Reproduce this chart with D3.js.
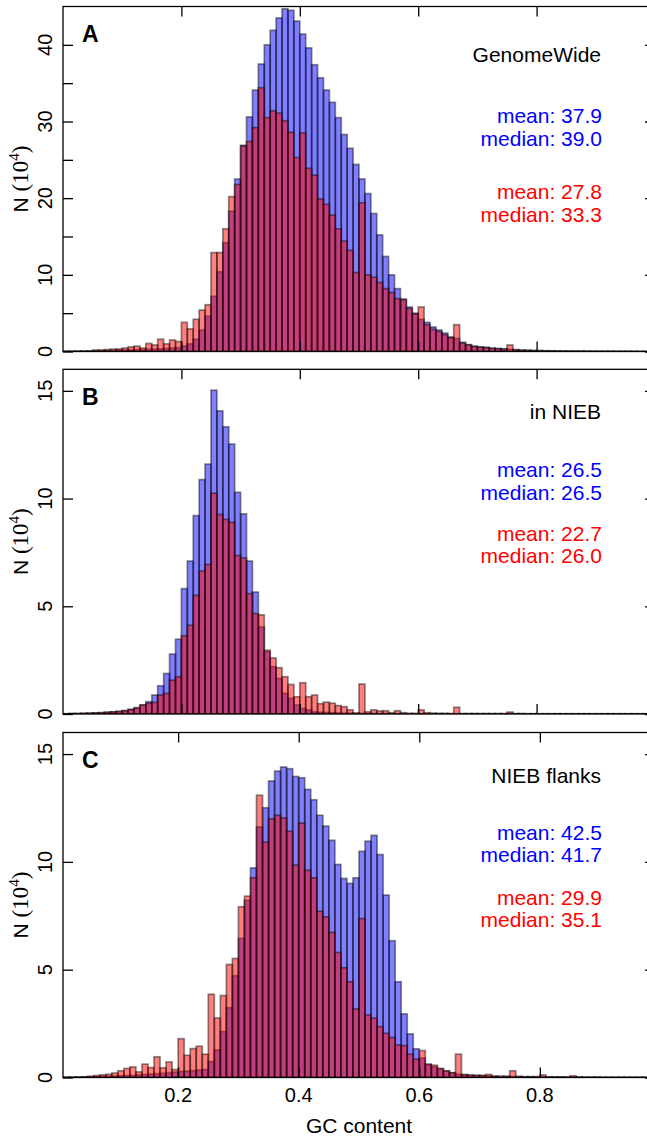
<!DOCTYPE html>
<html lang="en">
<head>
  <meta charset="UTF-8">
  <title>GC content histograms</title>
  <script src="https://d3js.org/d3.v7.min.js"></script>
  <style>
    body { margin: 0; background: #fff; }
    text { font-family: "Liberation Sans", Arial, sans-serif; }
  </style>
</head>
<body>
  <div id="chart"></div>
  <script>
    // bins of width 0.01 over GC content 0..1, counts in units of 10^4
    const binWidth = 0.01;

    const gwBlue = [
      0.02, 0.03, 0.04, 0.05, 0.06, 0.08, 0.1, 0.12, 0.15, 0.18,
      0.2, 0.22, 0.25, 0.25, 0.3, 0.3, 0.35, 0.4, 0.45, 0.5,
      0.7, 1.0, 1.6, 2.8, 4.6, 7.2, 10.4, 14.2, 18.3, 22.5,
      26.9, 30.6, 34.1, 37.5, 40.0, 41.9, 43.5, 44.7, 44.5, 43.1,
      41.4, 39.6, 37.4, 35.7, 34.1, 32.5, 30.5, 28.3, 26.5, 24.4,
      22.5, 20.6, 18.0, 15.2, 12.4, 10.0, 8.2, 6.8, 5.8, 5.0,
      4.2, 3.8, 3.2, 2.8, 2.4, 1.9, 1.7, 1.2, 0.9, 0.7,
      0.6, 0.55, 0.45, 0.4, 0.35, 0.3, 0.25, 0.2, 0.18, 0.15,
      0.12, 0.1, 0.09, 0.08, 0.07, 0.06, 0.05, 0.05, 0.04, 0.04,
      0.03, 0.03, 0.03, 0.02, 0.02, 0.02, 0.02, 0.01, 0.01, 0.01
    ];
    const gwRed = [
      0.02, 0.03, 0.04, 0.05, 0.08, 0.2, 0.2, 0.25, 0.3, 0.33,
      0.45, 0.6, 0.7, 0.45, 1.05, 0.85, 1.6, 1.0, 1.5, 1.3,
      3.8, 2.95, 4.2, 5.4, 6.1, 12.9, 12.9, 16.0, 20.2, 21.8,
      26.8, 27.4, 29.2, 34.4, 30.5, 31.4, 31.1, 30.1, 28.6, 25.3,
      28.5, 23.9, 23.0, 19.9, 19.2, 17.8, 16.0, 14.4, 13.2, 10.3,
      19.4, 10.0, 9.7, 9.0, 8.2, 7.7, 6.9, 6.8, 5.6, 4.9,
      5.8, 3.5, 2.9, 2.6, 2.2, 1.8, 3.5, 1.1, 0.85, 0.65,
      0.55, 0.5, 0.4, 0.35, 0.3, 0.85, 0.2, 0.15, 0.12, 0.1,
      0.1, 0.08, 0.07, 0.06, 0.05, 0.05, 0.04, 0.04, 0.03, 0.03,
      0.03, 0.02, 0.02, 0.02, 0.02, 0.01, 0.01, 0.01, 0.01, 0.01
    ];

    const niebBlue = [
      0.01, 0.02, 0.02, 0.03, 0.04, 0.05, 0.06, 0.08, 0.1, 0.12,
      0.16, 0.22, 0.3, 0.42, 0.57, 0.88, 1.31, 1.88, 2.78, 3.47,
      5.82, 7.1, 9.21, 10.88, 11.6, 15.03, 14.07, 13.33, 12.53, 10.29,
      9.29, 7.1, 5.66, 4.04, 2.9, 2.2, 1.65, 0.96, 0.73, 0.42,
      0.26, 0.19, 0.1, 0.08, 0.07, 0.06, 0.05, 0.04, 0.04, 0.03,
      0.03, 0.02, 0.02, 0.02, 0.02, 0.01, 0.01, 0.01, 0.01, 0.01,
      0.01, 0.01, 0.01, 0.01, 0.01, 0.01, 0.01, 0.01, 0.01, 0.01,
      0.01, 0.01, 0.01, 0.01, 0.01, 0.01, 0.01, 0.01, 0.01, 0.01,
      0.01, 0.01, 0.01, 0.01, 0.01, 0.01, 0.01, 0.01, 0.01, 0.01,
      0.01, 0.01, 0.01, 0.01, 0.01, 0.01, 0.01, 0.01, 0.01, 0.01
    ];
    const niebRed = [
      0.01, 0.02, 0.02, 0.03, 0.04, 0.05, 0.06, 0.08, 0.1, 0.12,
      0.15, 0.2, 0.26, 0.42, 0.5, 0.54, 0.88, 0.96, 1.57, 1.73,
      3.63, 4.12, 5.51, 6.64, 6.94, 10.25, 9.26, 9.03, 8.9, 7.36,
      7.24, 5.59, 4.66, 4.6, 2.96, 2.6, 2.15, 1.73, 1.37, 0.8,
      1.45, 0.8, 0.88, 0.48, 0.55, 0.5, 0.39, 0.34, 0.19, 0.04,
      1.39, 0.1, 0.19, 0.14, 0.15, 0.06, 0.15, 0.06, 0.03, 0.03,
      0.19, 0.06, 0.04, 0.03, 0.03, 0.02, 0.31, 0.02, 0.02, 0.02,
      0.02, 0.02, 0.02, 0.02, 0.02, 0.09, 0.02, 0.02, 0.01, 0.01,
      0.01, 0.01, 0.01, 0.01, 0.01, 0.01, 0.01, 0.01, 0.01, 0.01,
      0.01, 0.01, 0.01, 0.01, 0.01, 0.01, 0.01, 0.01, 0.01, 0.01
    ];

    const flankBlue = [
      0.01, 0.01, 0.02, 0.02, 0.03, 0.03, 0.04, 0.05, 0.06, 0.07,
      0.08, 0.09, 0.1, 0.12, 0.14, 0.16, 0.18, 0.2, 0.22, 0.25,
      0.28, 0.3, 0.32, 0.35, 0.37, 0.74, 1.28, 2.13, 3.24, 4.72,
      6.45, 8.22, 9.72, 11.62, 12.51, 13.75, 14.21, 14.4, 14.32, 13.96,
      13.9, 13.36, 12.88, 12.16, 11.66, 11.0, 9.88, 9.23, 9.0, 9.26,
      10.49, 10.96, 11.23, 10.34, 8.46, 6.34, 4.44, 2.95, 2.02, 1.33,
      0.9, 0.6, 0.5, 0.4, 0.3, 0.22, 0.15, 0.12, 0.1, 0.09,
      0.08, 0.07, 0.06, 0.05, 0.05, 0.04, 0.04, 0.03, 0.03, 0.03,
      0.03, 0.02, 0.02, 0.02, 0.02, 0.02, 0.02, 0.01, 0.01, 0.01,
      0.01, 0.01, 0.01, 0.01, 0.01, 0.01, 0.01, 0.01, 0.01, 0.01
    ];
    const flankRed = [
      0.01, 0.01, 0.02, 0.02, 0.03, 0.06, 0.09, 0.12, 0.15, 0.21,
      0.31, 0.42, 0.49, 0.26, 0.62, 0.46, 0.96, 0.45, 0.72, 0.37,
      1.8, 1.03, 1.34, 1.45, 1.08, 3.86, 2.76, 3.8, 5.24, 5.52,
      7.92, 8.41, 9.26, 13.09, 10.92, 12.0, 12.16, 12.04, 11.42, 9.85,
      11.8, 9.61, 9.26, 7.71, 7.45, 6.73, 5.8, 5.09, 4.44, 3.18,
      7.37, 2.9, 2.75, 2.36, 2.05, 1.85, 1.51, 1.48, 1.08, 0.85,
      1.25, 0.62, 0.57, 0.42, 0.31, 0.22, 1.08, 0.14, 0.11, 0.1,
      0.1, 0.14, 0.06, 0.05, 0.05, 0.31, 0.05, 0.04, 0.04, 0.04,
      0.12, 0.03, 0.03, 0.03, 0.02, 0.08, 0.02, 0.02, 0.02, 0.02,
      0.01, 0.01, 0.01, 0.01, 0.01, 0.01, 0.01, 0.01, 0.01, 0.01
    ];

    const xTicks = [0.2, 0.4, 0.6, 0.8];
    const yTicksA = [0, 5, 10, 15, 20, 25, 30, 35, 40];
    const yLabelsA = [0, 10, 20, 30, 40];
    const yTicksBC = [0, 5, 10, 15];

    const panels = [
      { letter: "A", title: "GenomeWide", blue: gwBlue, red: gwRed,
        blueStats: ["mean: 37.9", "median: 39.0"], redStats: ["mean: 27.8", "median: 33.3"],
        yMax: 45, ticks: yTicksA, labels: yLabelsA, rightTicks: yLabelsA, xDomain: [0, 1],
        top: 6.5, bottom: 351.5, titleY: 61.5, statsY: [122.7, 145.7, 199, 221.7] },
      { letter: "B", title: "in NIEB", blue: niebBlue, red: niebRed,
        blueStats: ["mean: 26.5", "median: 26.5"], redStats: ["mean: 22.7", "median: 26.0"],
        yMax: 16, ticks: yTicksBC, labels: yTicksBC, rightTicks: yTicksBC, xDomain: [0, 1],
        top: 369.3, bottom: 714, titleY: 418.5, statsY: [476.5, 499.5, 540.5, 562.5] },
      { letter: "C", title: "NIEB flanks", blue: flankBlue, red: flankRed,
        blueStats: ["mean: 42.5", "median: 41.7"], redStats: ["mean: 29.9", "median: 35.1"],
        yMax: 16, ticks: yTicksBC, labels: yTicksBC, rightTicks: yTicksBC, xDomain: [0.009, 0.991],
        top: 732.5, bottom: 1077.5, titleY: 782.5, statsY: [840, 862, 905, 927] }
    ];

    const width = 647, height = 1139;
    const left = 63, right = 655;

    const svg = d3.select("#chart")
      .append("svg")
      .attr("width", width)
      .attr("height", height);

    panels.forEach((p, k) => {
      const x = d3.scaleLinear().domain(p.xDomain).range([left, right]);
      const y = d3.scaleLinear().domain([0, p.yMax]).range([p.bottom, p.top]);

      svg.append("clipPath")
        .attr("id", "clip" + k)
        .append("rect")
        .attr("x", left)
        .attr("y", p.top)
        .attr("width", right - left)
        .attr("height", p.bottom - p.top);

      const bars = svg.append("g").attr("clip-path", `url(#clip${k})`);

      [[p.blue, "rgba(0,0,255,0.5)"], [p.red, "rgba(255,0,0,0.5)"]].forEach(([vals, fill]) => {
        bars.append("g")
          .selectAll("rect")
          .data(vals)
          .join("rect")
          .attr("x", (d, i) => x(i * binWidth))
          .attr("width", (d, i) => x((i + 1) * binWidth) - x(i * binWidth))
          .attr("y", d => y(d))
          .attr("height", d => y(0) - y(d))
          .attr("fill", fill)
          .attr("stroke", "rgba(0,0,0,0.45)")
          .attr("stroke-width", 1.7);
      });

      // inward ticks on all four sides
      const axes = [
        [d3.axisLeft(y).tickValues(p.ticks), `translate(${left},0)`],
        [d3.axisRight(y).tickValues(p.rightTicks), `translate(${right},0)`],
        [d3.axisTop(x).tickValues(xTicks), `translate(0,${p.top})`],
        [d3.axisBottom(x).tickValues(xTicks), `translate(0,${p.bottom})`]
      ];
      axes.forEach(([ax, tr]) => {
        const g = svg.append("g")
          .attr("transform", tr)
          .call(ax.tickSize(-10).tickFormat(""));
        g.select(".domain").remove();
        g.selectAll("line").attr("stroke", "#000").attr("stroke-width", 1.3);
      });

      svg.append("rect")
        .attr("x", left)
        .attr("y", p.top)
        .attr("width", right - left)
        .attr("height", p.bottom - p.top)
        .attr("fill", "none")
        .attr("stroke", "#000")
        .attr("stroke-width", 1.3);

      // y tick labels, rotated
      svg.append("g")
        .selectAll("text")
        .data(p.labels)
        .join("text")
        .attr("transform", d => `translate(52,${y(d)}) rotate(-90)`)
        .attr("text-anchor", "middle")
        .attr("font-size", 20)
        .text(d => d);

      // y axis title
      const yt = svg.append("text")
        .attr("transform", `translate(28,${(p.top + p.bottom) / 2}) rotate(-90)`)
        .attr("text-anchor", "middle")
        .attr("font-size", 21);
      yt.append("tspan").text("N ");
      yt.append("tspan").attr("font-family", "Liberation Serif, serif")
        .attr("font-size", 23).text("(10");
      yt.append("tspan").attr("font-family", "Liberation Serif, serif")
        .attr("font-size", 15).attr("dy", -9).text("4");
      yt.append("tspan").attr("font-family", "Liberation Serif, serif")
        .attr("font-size", 23).attr("dy", 9).text(")");

      svg.append("text")
        .attr("x", 82)
        .attr("y", p.top + 35.5)
        .attr("font-size", 23)
        .attr("font-weight", "bold")
        .text(p.letter);

      svg.append("text")
        .attr("x", 601)
        .attr("y", p.titleY)
        .attr("text-anchor", "end")
        .attr("font-size", 21)
        .text(p.title);

      const stats = [
        [p.blueStats[0], "#0000ff"], [p.blueStats[1], "#0000ff"],
        [p.redStats[0], "#ff0000"], [p.redStats[1], "#ff0000"]
      ];
      svg.append("g")
        .selectAll("text")
        .data(stats)
        .join("text")
        .attr("x", 602)
        .attr("y", (d, i) => p.statsY[i])
        .attr("text-anchor", "end")
        .attr("font-size", 21)
        .attr("fill", d => d[1])
        .text(d => d[0]);

      if (k === panels.length - 1) {
        svg.append("g")
          .selectAll("text")
          .data(xTicks)
          .join("text")
          .attr("x", d => x(d))
          .attr("y", 1102)
          .attr("text-anchor", "middle")
          .attr("font-size", 20)
          .text(d => d.toFixed(1));

        svg.append("text")
          .attr("x", (left + right) / 2)
          .attr("y", 1133)
          .attr("text-anchor", "middle")
          .attr("font-size", 21)
          .text("GC content");
      }
    });
  </script>
</body>
</html>
